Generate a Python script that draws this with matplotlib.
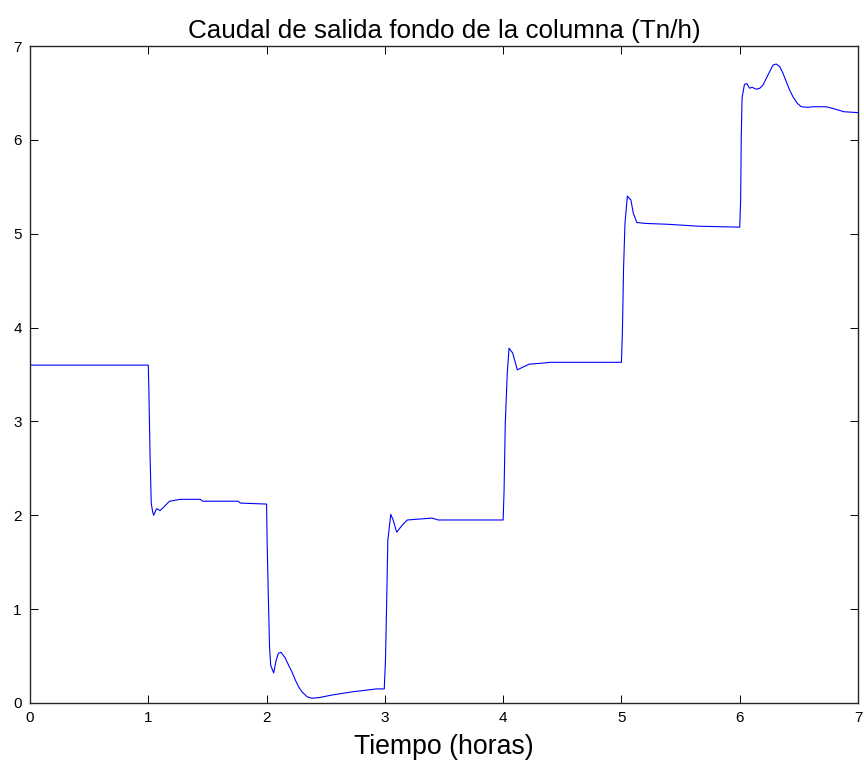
import matplotlib
matplotlib.use("Agg")
import matplotlib.pyplot as plt

plt.rcParams['font.family'] = ['Liberation Sans', 'DejaVu Sans']

# Bottom outflow of the column over time (hours, Tn/h)
tiempo = [
    0.0, 1.0, 1.005, 1.015, 1.025, 1.035, 1.045, 1.07, 1.10, 1.14, 1.18,
    1.27, 1.44, 1.46, 1.76, 1.78, 1.99,
    2.0, 2.005, 2.015, 2.025, 2.035, 2.06, 2.08, 2.10, 2.122, 2.158, 2.187,
    2.215, 2.243, 2.272, 2.299, 2.342, 2.384, 2.454, 2.553, 2.73, 2.93, 2.995,
    3.005, 3.015, 3.025, 3.05, 3.07, 3.10, 3.15, 3.19, 3.40, 3.45,
    4.0, 4.008, 4.018, 4.035, 4.05, 4.08, 4.12, 4.22, 4.32, 4.40,
    5.0, 5.008, 5.018, 5.03, 5.05, 5.08, 5.10, 5.13, 5.20, 5.40, 5.65,
    6.0, 6.008, 6.013, 6.02, 6.04, 6.06, 6.084, 6.104, 6.14, 6.17, 6.197,
    6.225, 6.253, 6.281, 6.309, 6.338, 6.366, 6.394, 6.422, 6.45, 6.487,
    6.52, 6.577, 6.62, 6.73, 6.80, 6.88, 7.0,
]
caudal = [
    3.60, 3.60, 3.33, 2.64, 2.13, 2.05, 2.00, 2.07, 2.05, 2.10, 2.15,
    2.17, 2.17, 2.15, 2.15, 2.13, 2.12,
    2.12, 1.70, 1.13, 0.60, 0.40, 0.32, 0.45, 0.53, 0.54, 0.48, 0.40,
    0.33, 0.245, 0.17, 0.12, 0.067, 0.05, 0.06, 0.085, 0.12, 0.15, 0.15,
    0.45, 1.05, 1.73, 2.01, 1.95, 1.82, 1.90, 1.95, 1.97, 1.95,
    1.95, 2.27, 2.98, 3.52, 3.78, 3.73, 3.55, 3.61, 3.62, 3.63,
    3.63, 3.94, 4.63, 5.11, 5.40, 5.36, 5.22, 5.12, 5.11, 5.10, 5.08,
    5.07, 5.36, 6.03, 6.45, 6.59, 6.60, 6.55, 6.56, 6.54, 6.55, 6.585,
    6.656, 6.726, 6.797, 6.808, 6.78, 6.709, 6.619, 6.531, 6.46, 6.389,
    6.353, 6.346, 6.353, 6.353, 6.33, 6.30, 6.29,
]
xticks = [0, 1, 2, 3, 4, 5, 6, 7]
yticks = [0, 1, 2, 3, 4, 5, 6, 7]

fig = plt.figure(figsize=(8.64, 7.63), dpi=100)
ax = fig.add_axes([30 / 864, 1 - 703 / 763, 828 / 864, 657 / 763])

ax.plot(tiempo, caudal, color=(0, 0, 1), linewidth=0.8)

ax.set_xlim(0, 7)
ax.set_ylim(0, 7)
ax.set_xticks(xticks)
ax.set_yticks(yticks)
ax.tick_params(direction='in', length=5.5, width=0.7, top=True, right=True,
               labelsize=11, pad=6, colors='black')
for s in ax.spines.values():
    s.set_linewidth(1.0)
    s.set_color('#262626')

ax.set_title('Caudal de salida fondo de la columna (Tn/h)', fontsize=18.7, pad=6)
ax.set_xlabel('Tiempo (horas)', fontsize=19.2, labelpad=6)

fig.savefig('out.png', dpi=100)
